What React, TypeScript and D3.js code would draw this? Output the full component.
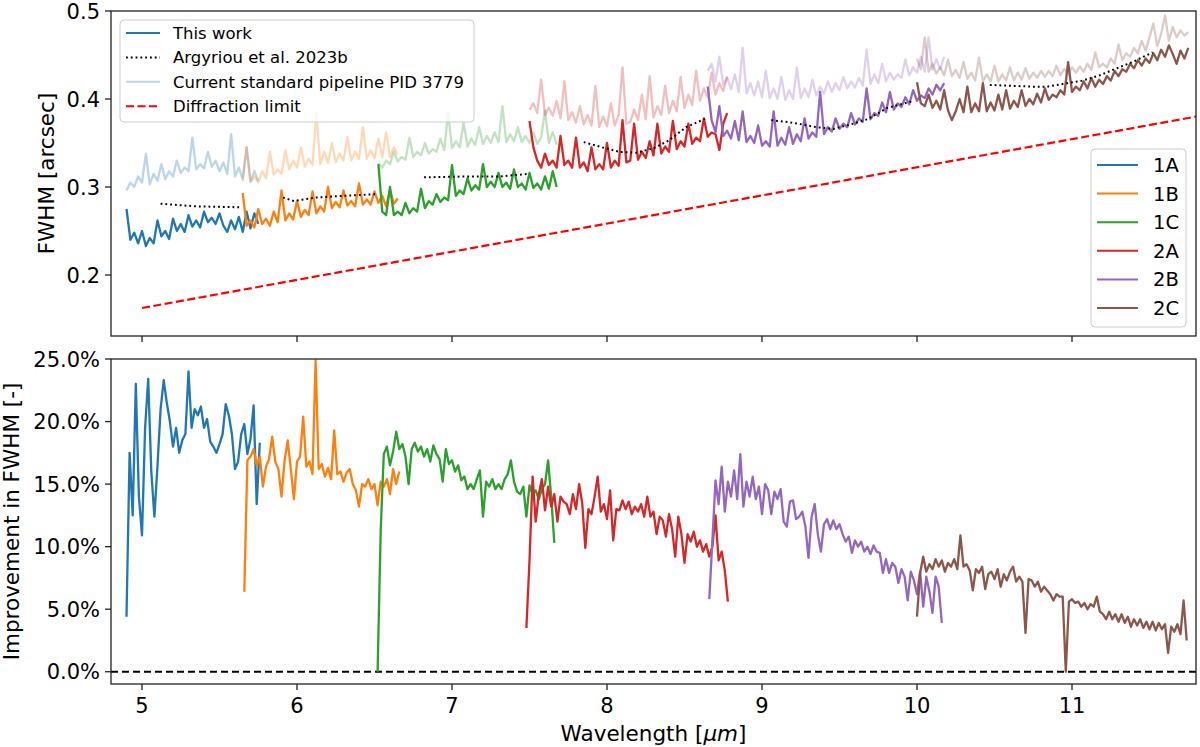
import React from "react";
import * as d3 from "d3";

// ---- data ----
const channels = ["1A", "1B", "1C", "2A", "2B", "2C"];
const colors = ["#1f77b4", "#ff7f0e", "#2ca02c", "#d62728", "#9467bd", "#8c564b"];

// top panel: FWHM [arcsec] on a 0.025 um grid starting at topStart
const topStart = [4.9, 5.65, 6.525, 7.5, 8.65, 10.0];
const TOP_STEP = 0.025;

const fwhm1A = [0.275,0.240,0.248,0.236,0.250,0.233,0.242,0.236,0.262,0.244,0.250,0.241,0.264,0.250,0.258,0.249,0.268,0.255,0.262,0.254,0.272,0.260,0.265,0.258,0.270,0.256,0.249,0.262,0.252,0.266,0.249,0.272,0.253,0.270,0.258];
const fwhm1B = [0.293,0.256,0.262,0.254,0.275,0.258,0.264,0.256,0.272,0.260,0.296,0.262,0.270,0.263,0.284,0.266,0.274,0.268,0.295,0.270,0.278,0.272,0.300,0.276,0.283,0.277,0.296,0.279,0.284,0.278,0.304,0.280,0.286,0.280,0.295,0.282,0.290,0.278,0.296,0.281,0.287];
const fwhm1C = [0.326,0.272,0.268,0.300,0.268,0.272,0.268,0.282,0.270,0.276,0.272,0.298,0.276,0.284,0.280,0.292,0.283,0.288,0.285,0.325,0.290,0.296,0.292,0.310,0.296,0.302,0.297,0.326,0.300,0.306,0.300,0.316,0.300,0.305,0.298,0.320,0.300,0.304,0.297,0.316,0.299,0.304,0.297,0.312,0.298,0.318,0.300];
const fwhm2A = [0.375,0.345,0.330,0.322,0.338,0.325,0.330,0.322,0.358,0.325,0.330,0.322,0.356,0.322,0.328,0.318,0.345,0.320,0.326,0.320,0.350,0.322,0.330,0.324,0.376,0.328,0.330,0.372,0.331,0.340,0.333,0.352,0.336,0.372,0.338,0.346,0.340,0.375,0.343,0.352,0.346,0.372,0.349,0.356,0.352,0.378,0.357,0.362,0.360,0.342,0.372,0.384];
const fwhm2B = [0.414,0.376,0.362,0.392,0.358,0.364,0.355,0.375,0.353,0.386,0.351,0.358,0.350,0.370,0.347,0.352,0.346,0.386,0.347,0.356,0.348,0.368,0.349,0.360,0.352,0.378,0.355,0.362,0.357,0.408,0.360,0.368,0.363,0.378,0.366,0.372,0.368,0.384,0.371,0.378,0.374,0.412,0.377,0.384,0.381,0.396,0.385,0.408,0.388,0.395,0.391,0.402,0.394,0.410,0.398,0.404,0.401,0.412,0.405,0.416,0.410,0.418];
const fwhm2C = [0.419,0.395,0.392,0.405,0.390,0.398,0.388,0.410,0.387,0.376,0.386,0.400,0.385,0.414,0.385,0.395,0.386,0.418,0.386,0.396,0.387,0.405,0.388,0.410,0.389,0.398,0.391,0.410,0.392,0.400,0.394,0.406,0.396,0.412,0.399,0.405,0.402,0.410,0.405,0.442,0.408,0.414,0.410,0.420,0.412,0.424,0.414,0.422,0.417,0.426,0.421,0.432,0.426,0.434,0.431,0.440,0.435,0.444,0.438,0.446,0.441,0.452,0.444,0.456,0.448,0.461,0.451,0.440,0.455,0.446,0.458];

const pipe1A = [0.296,0.305,0.300,0.312,0.305,0.338,0.303,0.315,0.307,0.326,0.309,0.318,0.312,0.330,0.316,0.322,0.318,0.356,0.320,0.326,0.321,0.340,0.323,0.330,0.318,0.328,0.315,0.360,0.312,0.322,0.308,0.345,0.306,0.318,0.307];
const pipe1B = [0.310,0.345,0.306,0.312,0.305,0.318,0.310,0.340,0.314,0.320,0.315,0.342,0.320,0.330,0.322,0.345,0.323,0.332,0.325,0.384,0.326,0.340,0.327,0.350,0.328,0.338,0.330,0.357,0.330,0.340,0.332,0.368,0.332,0.342,0.333,0.355,0.334,0.362,0.334,0.345,0.337];
const pipe1C = [0.327,0.322,0.330,0.326,0.340,0.329,0.334,0.331,0.356,0.334,0.340,0.336,0.350,0.338,0.343,0.340,0.355,0.342,0.385,0.344,0.352,0.345,0.373,0.346,0.355,0.348,0.368,0.349,0.358,0.350,0.362,0.351,0.392,0.351,0.360,0.352,0.368,0.351,0.358,0.350,0.362,0.349,0.356,0.387,0.350,0.362,0.348];
const pipe2A = [0.388,0.395,0.384,0.422,0.382,0.390,0.381,0.398,0.378,0.420,0.376,0.385,0.373,0.392,0.371,0.382,0.370,0.415,0.368,0.380,0.369,0.395,0.370,0.382,0.436,0.372,0.374,0.388,0.376,0.405,0.377,0.426,0.379,0.392,0.382,0.415,0.384,0.398,0.386,0.425,0.390,0.405,0.393,0.432,0.398,0.412,0.402,0.430,0.405,0.418,0.409,0.425];
const pipe2B = [0.432,0.440,0.420,0.448,0.416,0.425,0.411,0.428,0.408,0.458,0.406,0.418,0.404,0.420,0.402,0.432,0.401,0.412,0.400,0.425,0.399,0.410,0.400,0.436,0.401,0.412,0.402,0.422,0.404,0.414,0.406,0.420,0.408,0.418,0.410,0.425,0.412,0.420,0.413,0.424,0.415,0.456,0.417,0.428,0.418,0.440,0.420,0.430,0.422,0.428,0.424,0.445,0.427,0.436,0.430,0.448,0.431,0.470,0.433,0.445,0.434,0.448];
const pipe2C = [0.446,0.434,0.470,0.431,0.440,0.429,0.436,0.427,0.445,0.426,0.433,0.424,0.442,0.423,0.430,0.421,0.447,0.420,0.428,0.420,0.438,0.420,0.428,0.421,0.436,0.421,0.430,0.422,0.435,0.423,0.430,0.424,0.432,0.425,0.432,0.426,0.438,0.427,0.434,0.428,0.436,0.430,0.437,0.431,0.440,0.433,0.453,0.436,0.440,0.436,0.446,0.440,0.462,0.444,0.452,0.448,0.458,0.452,0.466,0.455,0.470,0.486,0.460,0.474,0.495,0.466,0.482,0.470,0.478,0.472,0.476];

// Argyriou et al. 2023b (dotted), [wavelength, FWHM]
const arg1A = [[5.12,0.281],[5.35,0.278],[5.63,0.277]];
const arg1B = [[5.91,0.288],[5.98,0.284],[6.12,0.288],[6.30,0.290],[6.52,0.292]];
const arg1C = [[6.82,0.311],[7.10,0.312],[7.31,0.312],[7.50,0.315]];
const arg2A = [[7.85,0.351],[7.97,0.345],[8.08,0.340],[8.19,0.339],[8.30,0.344],[8.40,0.353],[8.51,0.368],[8.64,0.378]];
const arg2B = [[9.06,0.376],[9.20,0.373],[9.35,0.368],[9.46,0.366],[9.57,0.371],[9.68,0.377],[9.81,0.390],[9.98,0.398]];
const arg2C = [[10.47,0.416],[10.75,0.414],[10.84,0.414],[10.97,0.418],[11.07,0.421],[11.18,0.427],[11.29,0.435],[11.39,0.442],[11.52,0.453]];

// diffraction limit
const diffWl = [5.0, 11.8];
const diffFwhm = [0.1625, 0.38];

// bottom panel: improvement [%] on a 0.02 um grid starting at botStart
const botStart = [4.9, 5.66, 6.52, 7.48, 8.66, 10.0];
const BOT_STEP = 0.02;

const imp1A = [4.4,17.5,12.5,23.0,14.0,10.9,19.5,23.4,16.0,12.4,16.5,21.0,23.3,21.5,20.0,18.0,19.5,17.5,18.5,19.0,24.0,19.5,21.0,20.5,21.2,19.5,20.2,18.4,18.0,17.5,18.2,19.0,21.4,20.5,19.0,16.2,16.8,19.0,19.8,17.4,18.6,21.3,13.4,18.3];
const imp1B = [6.4,16.9,17.2,17.8,16.5,17.2,14.8,16.4,17.0,18.8,16.8,16.2,14.0,16.9,18.5,16.2,13.8,16.8,17.2,20.4,16.4,16.8,15.8,24.9,16.2,16.6,15.6,16.3,15.4,19.3,15.8,16.0,15.2,15.9,16.2,15.0,14.5,13.2,15.0,14.8,15.4,14.6,15.0,13.3,15.2,14.8,15.4,14.2,16.2,15.0,16.0];
const imp1C = [0.0,11.3,17.4,18.0,16.5,17.6,19.2,17.8,18.2,17.2,15.0,17.8,18.3,17.6,18.0,17.2,17.8,16.8,18.1,17.4,17.0,15.2,17.8,16.6,16.9,16.0,16.5,15.3,15.6,14.6,15.0,14.6,15.4,16.1,12.4,15.2,14.8,15.4,14.6,15.0,14.6,15.4,15.8,16.9,15.2,14.4,14.2,14.8,12.4,14.9,14.2,14.5,13.8,14.6,15.0,16.9,14.0,10.3];
const imp2A = [3.5,8.9,15.6,12.0,14.2,15.4,12.9,14.8,13.2,14.2,12.0,14.0,13.6,13.4,12.6,14.2,13.0,15.0,13.5,9.9,13.0,12.6,14.0,15.6,12.8,13.4,12.2,14.5,10.5,13.0,12.9,13.7,13.0,13.6,12.6,13.2,12.8,13.4,12.4,14.0,12.4,12.8,11.0,12.4,12.1,10.8,12.6,11.4,9.2,12.4,11.0,8.7,11.0,10.4,11.2,10.0,10.5,9.6,10.2,9.2,10.0,12.5,8.9,9.6,8.1,5.6];
const imp2B = [5.8,10.5,15.3,13.4,16.4,12.8,15.2,14.0,16.1,13.8,17.4,13.2,15.2,14.0,15.6,13.8,14.8,12.6,15.0,14.5,12.6,14.4,13.8,14.6,12.0,11.6,13.6,13.7,12.2,12.4,12.8,11.6,9.1,12.4,13.4,11.0,9.6,11.8,12.2,11.4,12.1,11.4,11.8,11.0,10.4,10.8,9.5,10.5,10.0,10.4,9.6,10.0,9.4,10.1,9.6,9.5,7.9,9.0,7.9,8.7,8.4,7.1,8.2,7.6,5.7,8.0,7.3,6.2,8.0,5.2,7.6,6.4,4.7,7.6,6.8,3.9];
const imp2C = [4.4,7.9,9.2,8.0,8.6,8.2,9.0,8.4,8.9,8.0,8.7,8.4,9.0,8.2,10.9,8.4,8.6,8.1,6.5,8.2,7.9,8.4,6.6,7.8,8.0,7.4,8.2,6.8,7.8,7.3,8.0,8.4,7.2,7.6,7.2,3.1,7.4,7.3,6.8,7.2,6.4,6.8,6.5,6.2,5.7,6.2,6.0,6.0,0.0,5.6,5.8,5.5,5.6,5.2,5.5,5.0,5.4,5.2,6.0,4.8,4.6,4.2,4.8,4.2,4.6,4.0,4.6,3.9,4.4,3.6,4.2,3.7,4.2,3.5,4.0,3.4,4.0,3.3,3.9,3.4,3.8,1.5,3.6,3.2,3.8,3.0,5.7,2.5];

const fwhmSeries = [fwhm1A, fwhm1B, fwhm1C, fwhm2A, fwhm2B, fwhm2C];
const pipeSeries = [pipe1A, pipe1B, pipe1C, pipe2A, pipe2B, pipe2C];
const argSeries = [arg1A, arg1B, arg1C, arg2A, arg2B, arg2C];
const impSeries = [imp1A, imp1B, imp1C, imp2A, imp2B, imp2C];

const xTicks = [5, 6, 7, 8, 9, 10, 11];
const topTicks = [0.2, 0.3, 0.4, 0.5];
const botTicks = [0, 5, 10, 15, 20, 25];

const legendTop = ["This work", "Argyriou et al. 2023b", "Current standard pipeline PID 3779", "Diffraction limit"];

// ---- layout ----
const W = 1200;
const H = 747;
const L = 111, R = 1196;
const topY = [11, 336];
const botY = [359, 684];
const FONT = "DejaVu Sans, Verdana, sans-serif";
const LW = 2.3;

const x = d3.scaleLinear().domain([4.8, 11.8]).range([L, R]);
const yTop = d3.scaleLinear().domain([0.1307, 0.5]).range([topY[1], topY[0]]);
const yBot = d3.scaleLinear().domain([-0.98, 25]).range([botY[1], botY[0]]);

const toPts = (vals: number[], start: number, step: number) =>
  vals.map((v, i) => [start + i * step, v] as [number, number]);

const lineTop = d3.line<number[]>().x(d => x(d[0])).y(d => yTop(d[1]));
const lineBot = d3.line<number[]>().x(d => x(d[0])).y(d => yBot(d[1]));

export default function App() {
  const diffPts = diffWl.map((w, i) => [w, diffFwhm[i]]);
  return (
    <svg width={W} height={H} style={{ display: "block", position: "absolute", left: 0, top: 0, background: "#fff" }} fontFamily={FONT}>
      <defs>
        <clipPath id="clipTop"><rect x={L} y={topY[0]} width={R - L} height={topY[1] - topY[0]} /></clipPath>
        <clipPath id="clipBot"><rect x={L} y={botY[0]} width={R - L} height={botY[1] - botY[0]} /></clipPath>
      </defs>

      {/* top panel */}
      <g clipPath="url(#clipTop)">
        {pipeSeries.map((s, i) => (
          <path key={"p" + i} d={lineTop(toPts(s, topStart[i], TOP_STEP)) || ""} fill="none"
            stroke={colors[i]} strokeOpacity={0.3} strokeWidth={LW} strokeLinejoin="round" />
        ))}
        {fwhmSeries.map((s, i) => (
          <path key={"f" + i} d={lineTop(toPts(s, topStart[i], TOP_STEP)) || ""} fill="none"
            stroke={colors[i]} strokeWidth={LW} strokeLinejoin="round" />
        ))}
        {argSeries.map((s, i) => (
          <path key={"a" + i} d={lineTop(s) || ""} fill="none" stroke="#000" strokeWidth={2}
            strokeDasharray="1.8,3" />
        ))}
        <path d={lineTop(diffPts) || ""} fill="none" stroke="#ff0000" strokeWidth={2.2} strokeDasharray="8,3.5" />
      </g>
      <rect x={L} y={topY[0]} width={R - L} height={topY[1] - topY[0]} fill="none" stroke="#222" strokeWidth={1.3} />
      {xTicks.map(t => (
        <line key={"xt" + t} x1={x(t)} x2={x(t)} y1={topY[1]} y2={topY[1] + 6} stroke="#222" strokeWidth={1.3} />
      ))}
      {topTicks.map(t => (
        <g key={"yt" + t}>
          <line x1={L - 6} x2={L} y1={yTop(t)} y2={yTop(t)} stroke="#222" strokeWidth={1.3} />
          <text x={L - 11} y={yTop(t) + 7.5} fontSize={21} textAnchor="end" fill="#000">{t.toFixed(1)}</text>
        </g>
      ))}
      <text transform={`translate(54,${(topY[0] + topY[1]) / 2}) rotate(-90)`} fontSize={21.5} textAnchor="middle" fill="#000">FWHM [arcsec]</text>

      {/* top-left legend */}
      <g>
        <rect x={120} y={20} width={354} height={102} rx={4} fill="#fff" fillOpacity={0.8} stroke="#ccc" strokeWidth={1} />
        {legendTop.map((lab, i) => {
          const cy = 33 + i * 24.4;
          const style = [
            { stroke: colors[0], dash: undefined, op: 1 },
            { stroke: "#000", dash: "1.8,3", op: 1 },
            { stroke: colors[0], dash: undefined, op: 0.3 },
            { stroke: "#ff0000", dash: "8,3.5", op: 1 },
          ][i];
          return (
            <g key={lab}>
              <line x1={126} x2={160} y1={cy} y2={cy} stroke={style.stroke} strokeOpacity={style.op}
                strokeWidth={2} strokeDasharray={style.dash} />
              <text x={173} y={cy + 6} fontSize={16.5} fill="#000">{lab}</text>
            </g>
          );
        })}
      </g>

      {/* channel legend */}
      <g>
        <rect x={1091} y={149} width={95} height={178} rx={4} fill="#fff" fillOpacity={0.8} stroke="#ccc" strokeWidth={1} />
        {channels.map((c, i) => {
          const cy = 165 + i * 28.6;
          return (
            <g key={c}>
              <line x1={1097} x2={1138} y1={cy} y2={cy} stroke={colors[i]} strokeWidth={2} />
              <text x={1153} y={cy + 7} fontSize={19.5} fill="#000">{c}</text>
            </g>
          );
        })}
      </g>

      {/* bottom panel */}
      <g clipPath="url(#clipBot)">
        <line x1={L} x2={R} y1={yBot(0)} y2={yBot(0)} stroke="#000" strokeWidth={1.8} strokeDasharray="7,4" />
        {impSeries.map((s, i) => (
          <path key={"i" + i} d={lineBot(toPts(s, botStart[i], BOT_STEP)) || ""} fill="none"
            stroke={colors[i]} strokeWidth={LW} strokeLinejoin="round" />
        ))}
      </g>
      <rect x={L} y={botY[0]} width={R - L} height={botY[1] - botY[0]} fill="none" stroke="#222" strokeWidth={1.3} />
      {xTicks.map(t => (
        <g key={"bx" + t}>
          <line x1={x(t)} x2={x(t)} y1={botY[1]} y2={botY[1] + 6} stroke="#222" strokeWidth={1.3} />
          <text x={x(t)} y={botY[1] + 29} fontSize={21} textAnchor="middle" fill="#000">{t}</text>
        </g>
      ))}
      {botTicks.map(t => (
        <g key={"by" + t}>
          <line x1={L - 6} x2={L} y1={yBot(t)} y2={yBot(t)} stroke="#222" strokeWidth={1.3} />
          <text x={L - 11} y={yBot(t) + 7.5} fontSize={21} textAnchor="end" fill="#000">{t.toFixed(1) + "%"}</text>
        </g>
      ))}
      <text transform={`translate(19,${(botY[0] + botY[1]) / 2}) rotate(-90)`} fontSize={21.5} textAnchor="middle" fill="#000">Improvement in FWHM [-]</text>
      <text x={(L + R) / 2} y={741} fontSize={21.5} textAnchor="middle" fill="#000">
        Wavelength [<tspan fontStyle="italic">μm</tspan>]
      </text>
    </svg>
  );
}
